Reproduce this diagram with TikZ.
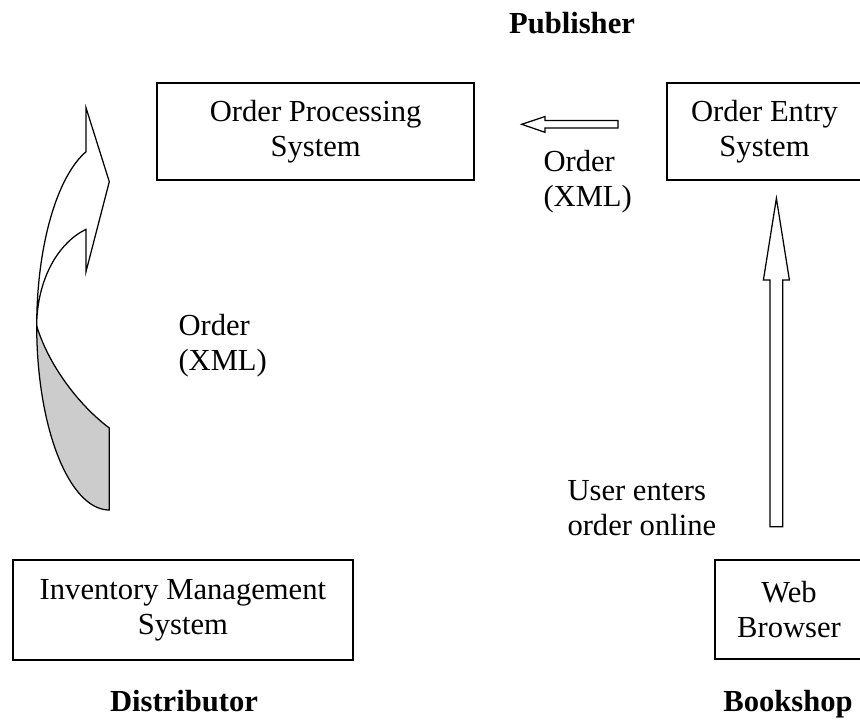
\documentclass[tikz,border=0pt]{standalone}
\usepackage{fontspec}
\setmainfont{Liberation Serif}
\newcommand\myfs{\fontsize{12.24pt}{14pt}\selectfont}
\begin{document}
\begin{tikzpicture}[x=0.4pt,y=-0.4pt,
  box/.style={draw,line width=0.8pt,align=center,inner sep=0pt,font=\myfs},
  lbl/.style={inner sep=0pt,align=left,font=\myfs},
  ttl/.style={inner sep=0pt,font=\myfs\bfseries},
  hollow/.style={draw,line width=0.5pt,fill=white,line join=miter},
  backface/.style={draw,line width=0.5pt,fill=gray!40}]
\useasboundingbox (0,0) rectangle (860,720);
\clip (0,0) rectangle (860,720);

% boxes
\node[box,minimum width=126.7pt,minimum height=38.8pt] (op) at (315.7,131.5) {Order Processing\\System};
\node[box,minimum width=78pt,minimum height=38.8pt] (oe) at (764.5,131.5) {Order Entry\\System};
\node[box,minimum width=136.1pt,minimum height=40pt] (im) at (182.9,610) {Inventory Management\\System};
\node[box,minimum width=59.2pt,minimum height=39.6pt] (wb) at (789,609.5) {Web\\Browser};

% titles
\node[ttl,anchor=base] (pub) at (572,33) {Publisher};
\node[ttl,anchor=base] (dist) at (184,711) {Distributor};
\node[ttl,anchor=base] (book) at (788,711) {Bookshop};

% labels (base = baseline of the last line)
\node[lbl,anchor=base west] (ordA) at (543,206) {Order\\(XML)};
\node[lbl,anchor=base west] (ordB) at (178,370) {Order\\(XML)};
\node[lbl,anchor=base west] (user) at (567,535) {User enters\\order online};

% hollow arrow: Order Entry -> Order Processing
\coordinate (ltail) at (618,124.3);
\coordinate (ltip) at (521.7,124.3);
\draw[hollow] (ltail) ++(0,-3.8) -- ++(-73,0) -- ++(0,-4) -- (ltip)
  -- ++(23.3,8) -- ++(0,-4.2) -- ++(73,0) -- cycle;

% hollow arrow: Web Browser -> Order Entry
\coordinate (vtail) at (776.4,526.7);
\coordinate (vtip) at (776.4,198.3);
\draw[hollow] (vtail) ++(-6.3,0) -- ++(0,-246.7) -- ++(-6.7,0) -- (vtip)
  -- ++(13,81.7) -- ++(-6.7,0) -- ++(0,246.7) -- cycle;

% curved arrow: Inventory Management -> Order Processing
\draw[backface] plot[domain=180:270,samples=40] ({109.3+72.6*cos(\x)},{326-184*sin(\x)})
  -- (109.3,428) .. controls (79.3,405.5) and (49,366) .. (36.7,326) -- cycle;
\draw[hollow] plot[domain=180:108.7,samples=40] ({109.3+72.6*cos(\x)},{326-184*sin(\x)})
  -- (86,107.7) -- (109.3,181.7) -- (86,271.7)
  -- plot[domain=108.7:180,samples=40] ({109.3+72.6*cos(\x)},{326-102*sin(\x)}) -- cycle;
\end{tikzpicture}
\end{document}
